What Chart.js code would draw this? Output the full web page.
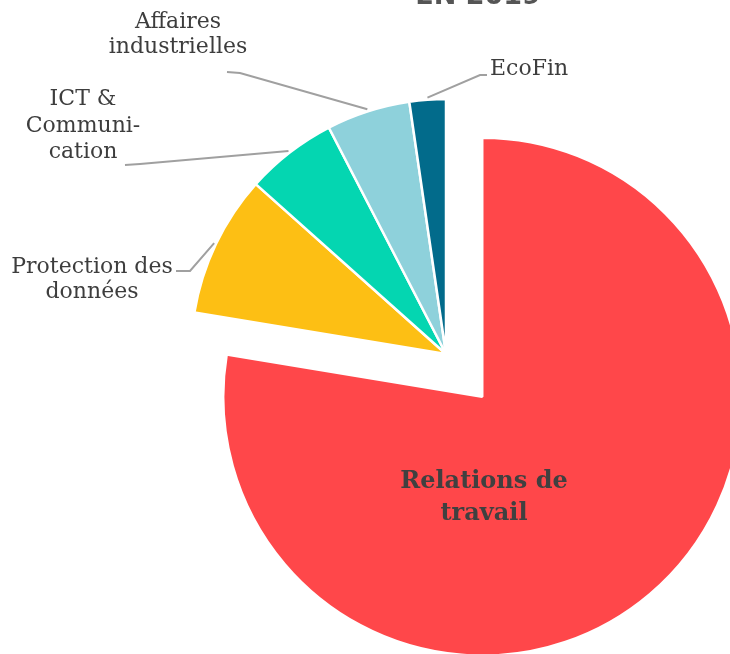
<!DOCTYPE html>
<html>
<head>
<meta charset="utf-8">
<script src="https://cdn.jsdelivr.net/npm/chart.js@4"></script>
<style>
  html, body { margin: 0; padding: 0; background: #fff; overflow: hidden; }
  #wrap { width: 730px; height: 654px; position: relative; }
</style>
</head>
<body>
<div id="wrap"><canvas id="pieChart" width="730" height="654"></canvas></div>
<script>
// data
const categories = ['Relations de travail', 'Protection des données', 'ICT & Communication', 'Affaires industrielles', 'EcoFin'];
const shares = [77.6, 9.0, 5.8, 5.3, 2.3];
const sliceColors = ['#ff474a', '#fdbf14', '#04d6b1', '#8ed1db', '#026b8b'];
const pullOut = [56, 0, 0, 0, 0]; // how far each slice is pulled away, px

// how each label is written on the picture (line breaks as in the original)
const labelLines = [
  ['Relations de', 'travail'],
  ['Protection des', 'données'],
  ['ICT &', 'Communi-', 'cation'],
  ['Affaires', 'industrielles'],
  ['EcoFin']
];

// label placement, relative to the pie centre
const labelLayout = [
  { inside: true, x: 38, y: 134, step: 32 },
  { elbow: [-256, -83], end: [-270, -83], x: -354, y: -81, step: 25, align: 'center' },
  { elbow: [-306, -190], end: [-321, -189], x: -363, y: -249, step: 26.5, align: 'center' },
  { elbow: [-206, -281], end: [-219, -282], x: -268, y: -326, step: 25, align: 'center' },
  { elbow: [34, -279], end: [41, -279], x: 44, y: -279, step: 25, align: 'left' }
];

const pieRadius = 255;
const pulledRadius = 259;

// Chart.js moves an arc by offset/4, grows it by offset/4 and trims its
// angle a little; pass offset*4 and undo the growth and the trim so the
// pulled slice keeps its radius and straight edges
const keepShape = {
  id: 'keepShape',
  afterDatasetUpdate(chart, args) {
    if (args.index !== 0) return;
    chart.getDatasetMeta(0).data.forEach((arc, i) => {
      const shift = pullOut[i];
      if (!shift) return;
      arc.outerRadius = pulledRadius - shift;
      const trim = (shift / Math.PI) / pulledRadius / 2;
      arc.startAngle -= trim;
      arc.endAngle += trim;
    });
  }
};

const labelPlugin = {
  id: 'sliceLabels',
  afterDatasetsDraw(chart) {
    const ctx = chart.ctx;
    const arcs = chart.getDatasetMeta(0).data;
    ctx.save();
    arcs.forEach((arc, i) => {
      const lay = labelLayout[i];
      const cx = arc.x, cy = arc.y;
      if (lay.inside) {
        ctx.font = 'bold 24px "DejaVu Serif"';
        ctx.fillStyle = '#404040';
        ctx.textAlign = 'center';
        ctx.textBaseline = 'alphabetic';
        labelLines[i].forEach((t, k) => ctx.fillText(t, cx + lay.x, cy + lay.y + k * lay.step));
        return;
      }
      // leader line from the arc edge
      const mid = (arc.startAngle + arc.endAngle) / 2;
      const r = arc.outerRadius + 2;
      ctx.strokeStyle = '#a0a0a0';
      ctx.lineWidth = 2;
      ctx.beginPath();
      ctx.moveTo(cx + Math.cos(mid) * r, cy + Math.sin(mid) * r);
      ctx.lineTo(cx + lay.elbow[0], cy + lay.elbow[1]);
      ctx.lineTo(cx + lay.end[0], cy + lay.end[1]);
      ctx.stroke();

      ctx.font = '22px "DejaVu Serif"';
      ctx.fillStyle = '#3d3d3d';
      ctx.textAlign = lay.align;
      ctx.textBaseline = 'alphabetic';
      labelLines[i].forEach((t, k) => ctx.fillText(t, cx + lay.x, cy + lay.y + k * lay.step));
    });

    // title, cut off by the top edge
    ctx.font = 'bold 27px "DejaVu Sans"';
    ctx.fillStyle = '#555';
    ctx.textAlign = 'center';
    ctx.fillText('EN 2019', 478, 4);
    ctx.restore();
  }
};

new Chart(document.getElementById('pieChart'), {
  type: 'pie',
  data: {
    labels: categories,
    datasets: [{
      data: shares,
      backgroundColor: sliceColors,
      borderColor: '#ffffff',
      borderWidth: 2.5,
      offset: pullOut.map(v => v * 4),
      radius: pieRadius,
      clip: false
    }]
  },
  options: {
    responsive: false,
    animation: false,
    layout: { padding: { left: 162, top: 54, right: 0, bottom: 0 } },
    plugins: {
      legend: { display: false },
      tooltip: { enabled: false }
    }
  },
  plugins: [keepShape, labelPlugin]
});
</script>
</body>
</html>
